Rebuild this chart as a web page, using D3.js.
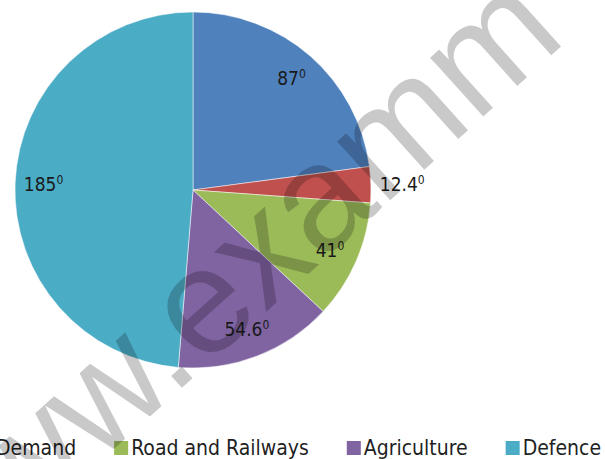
<!DOCTYPE html>
<html>
<head>
<meta charset="utf-8">
<script src="https://cdn.jsdelivr.net/npm/d3@7"></script>
<style>
  body { margin: 0; background: #fff; }
  svg { display: block; }
</style>
</head>
<body>
<svg></svg>
<script>
// slice data, clockwise from 12 o'clock
const categories = ["Other", "Demand", "Road and Railways", "Agriculture", "Defence"];
const degrees = [87, 12.4, 41, 54.6, 185];
const colors = ["#4F81BD", "#C0504D", "#9BBB59", "#8064A2", "#4BACC6"];
const watermark = "www.examm";

const width = 605;
const height = 459;
const cx = 193, cy = 190;
const radius = 178;
const font = "'DejaVu Sans Condensed', 'DejaVu Sans', sans-serif";
const wmFont = "'Liberation Sans', Arial, sans-serif";

const svg = d3.select("svg")
    .attr("width", width)
    .attr("height", height);

const g = svg.append("g")
    .attr("transform", "translate(" + cx + "," + cy + ")");

const pie = d3.pie()
    .sort(null)
    .value(function (d) { return d; });

const arcs = pie(degrees);

const arc = d3.arc()
    .innerRadius(0)
    .outerRadius(radius);

const labelArc = d3.arc()
    .innerRadius(radius * 0.84)
    .outerRadius(radius * 0.84);

/////// SLICES ///////
g.selectAll("path")
    .data(arcs)
    .enter().append("path")
    .attr("d", arc)
    .attr("fill", function (d, i) { return colors[i]; })
    .attr("stroke", "#fff")
    .attr("stroke-width", 0.5);

/////// LABELS ///////
const labels = g.selectAll(".label")
    .data(arcs)
    .enter().append("text")
    .attr("class", "label")
    .attr("font-family", font)
    .attr("font-size", 19)
    .attr("fill", "#1a1a1a")
    .each(function (d) {
        const small = (d.endAngle - d.startAngle) < 0.3;
        let pos;
        if (small) {
            // thin slice: put the label just outside the rim
            const mid = (d.startAngle + d.endAngle) / 2;
            pos = [Math.sin(mid) * radius * 1.05, -Math.cos(mid) * radius * 1.05];
        } else {
            pos = labelArc.centroid(d);
        }
        d3.select(this)
            .attr("text-anchor", small ? "start" : "middle")
            .attr("x", pos[0])
            .attr("y", pos[1] + 7);
    });

labels.append("tspan")
    .text(function (d) { return d.data; });

labels.append("tspan")
    .attr("font-size", 12)
    .attr("dy", -7)
    .text("0");

/////// LEGEND ///////
const legend = svg.append("g");
const boxSize = 14;
let lx = 0;
const items = [];
categories.forEach(function (name, i) {
    const item = legend.append("g");
    item.append("rect")
        .attr("x", 0)
        .attr("y", -14)
        .attr("width", boxSize)
        .attr("height", boxSize)
        .attr("fill", colors[i]);
    const t = item.append("text")
        .attr("x", boxSize + 3)
        .attr("font-family", font)
        .attr("font-size", 21)
        .attr("fill", "#1f1f1f")
        .text(name);
    item.attr("transform", "translate(" + lx + ",0)");
    items.push(lx);
    lx += boxSize + 3 + t.node().getComputedTextLength() + 38;
});
// the legend is wider than the picture: the second label begins at the left edge
const shift = -4 - (items[1] + boxSize + 3);
legend.attr("transform", "translate(" + shift + ",455)");

/////// WATERMARK ///////
const wm = svg.append("g")
    .attr("transform", "translate(182,377) rotate(-42)")
    .append("text")
    .attr("font-family", wmFont)
    .attr("font-size", 150)
    .attr("fill", "#000")
    .attr("fill-opacity", 0.21)
    .attr("y", 8)
    .text(watermark);
const node = wm.node();
const dotStart = node.getStartPositionOfChar(3).x;
const dotWidth = node.getSubStringLength(3, 1);
wm.attr("x", -(dotStart + dotWidth / 2));
</script>
</body>
</html>
